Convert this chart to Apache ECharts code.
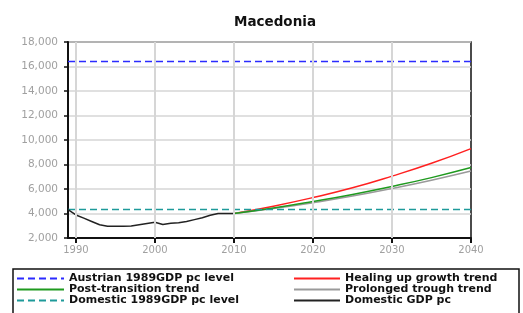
<!DOCTYPE html>
<html>
<head>
<meta charset="utf-8">
<script src="https://cdn.jsdelivr.net/npm/echarts@6/dist/echarts.min.js"></script>
<style>
  html, body { margin: 0; padding: 0; background: #fff; }
  #chart { width: 523px; height: 313px; }
</style>
</head>
<body>
<div id="chart"></div>
<script>
// observed GDP per capita, Macedonia
var histYears = [1989, 1990, 1991, 1992, 1993, 1994, 1995, 1996, 1997, 1998, 1999,
                 2000, 2001, 2002, 2003, 2004, 2005, 2006, 2007, 2008, 2009, 2010];
var domesticGdp = [4320, 3880, 3620, 3350, 3080, 2960, 2950, 2950, 2980, 3080, 3180,
                   3280, 3100, 3210, 3250, 3350, 3500, 3650, 3850, 4000, 4000, 4000];

// projections (5-year steps)
var projYears = [2010, 2015, 2020, 2025, 2030, 2035, 2040];
var healingUp = [4000, 4600, 5300, 6100, 7050, 8100, 9300];
var postTransition = [4000, 4450, 4980, 5560, 6210, 6930, 7750];
var prolongedTrough = [4000, 4400, 4880, 5420, 6040, 6720, 7470];

// reference levels
var levelYears = [1989, 2040];
var austrian1989 = 16400;
var domestic1989 = 4320;

var decadeTicks = [1990, 2000, 2010, 2020, 2030, 2040];

function pairs(xs, ys) {
    var out = [];
    for (var i = 0; i < xs.length; i++) {
        out.push([xs[i], ys[i]]);
    }
    return out;
}

var font = 'DejaVu Sans';
var legendText = { fontFamily: font, fontSize: 11, fontWeight: 'bold', color: '#111' };

var chart = echarts.init(document.getElementById('chart'));
chart.setOption({
    animation: false,
    title: {
        text: 'Macedonia',
        left: 270,
        textAlign: 'center',
        top: 10,
        textStyle: { fontFamily: font, fontSize: 13.5, fontWeight: 'bold', color: '#111' }
    },
    grid: {
        left: 68, right: 52, top: 42, bottom: 75,
        show: true, borderColor: '#111', borderWidth: 1.5
    },
    legend: [{
        orient: 'vertical',
        left: 16, top: 273, height: 40, padding: 0,
        itemWidth: 47, itemHeight: 12, itemGap: 0,
        itemStyle: { opacity: 0 },
        textStyle: legendText,
        data: ['Austrian 1989GDP pc level', 'Post-transition trend', 'Domestic 1989GDP pc level']
    }, {
        orient: 'vertical',
        left: 293, top: 273, height: 40, padding: 0,
        itemWidth: 46, itemHeight: 12, itemGap: 0,
        itemStyle: { opacity: 0 },
        textStyle: legendText,
        data: ['Healing up growth trend', 'Prolonged trough trend', 'Domestic GDP pc']
    }],
    graphic: [{
        type: 'rect',
        shape: { x: 13, y: 269, width: 506, height: 50 },
        style: { fill: 'none', stroke: '#111', lineWidth: 1.5 }
    }],
    xAxis: {
        type: 'value',
        min: 1989, max: 2040,
        axisLine: { lineStyle: { color: '#111', width: 2 } },
        axisTick: { customValues: decadeTicks, length: 5, lineStyle: { color: '#111', width: 2 } },
        axisLabel: {
            customValues: decadeTicks, color: '#a0a0a0', fontFamily: font, fontSize: 10, margin: 7,
            formatter: function(v) { return String(v); }
        },
        splitLine: { show: false }
    },
    yAxis: {
        type: 'value',
        min: 2000, max: 18000, interval: 2000,
        axisLine: { show: true, lineStyle: { color: '#111', width: 2 } },
        axisTick: { show: true, length: 4, lineStyle: { color: '#111', width: 1.5 } },
        axisLabel: {
            color: '#a0a0a0', fontFamily: font, fontSize: 10.5, margin: 10,
            formatter: function(v) { return v.toLocaleString('en-US'); }
        },
        splitLine: { lineStyle: { color: '#d6d6d6', width: 1.5 } }
    },
    series: [{
        // vertical decade grid lines
        type: 'line', silent: true, data: [],
        markLine: {
            symbol: 'none', silent: true, label: { show: false },
            lineStyle: { color: '#d6d6d6', width: 2, type: 'solid' },
            data: decadeTicks.slice(0, 5).map(function(y) { return { xAxis: y }; })
        }
    }, {
        name: 'Austrian 1989GDP pc level', type: 'line', symbol: 'none',
        data: pairs(levelYears, [austrian1989, austrian1989]),
        lineStyle: { color: '#2b2bff', width: 1.5, type: [7, 4] },
        itemStyle: { color: '#2b2bff' }
    }, {
        name: 'Healing up growth trend', type: 'line', symbol: 'none', smooth: true,
        data: pairs(projYears, healingUp),
        lineStyle: { color: '#ff2020', width: 1.5 }, itemStyle: { color: '#ff2020' }
    }, {
        name: 'Prolonged trough trend', type: 'line', symbol: 'none', smooth: true,
        data: pairs(projYears, prolongedTrough),
        lineStyle: { color: '#9a9a9a', width: 1.5 }, itemStyle: { color: '#9a9a9a' }
    }, {
        name: 'Post-transition trend', type: 'line', symbol: 'none', smooth: true,
        data: pairs(projYears, postTransition),
        lineStyle: { color: '#1f9a1f', width: 1.5 }, itemStyle: { color: '#1f9a1f' }
    }, {
        name: 'Domestic 1989GDP pc level', type: 'line', symbol: 'none',
        data: pairs(levelYears, [domestic1989, domestic1989]),
        lineStyle: { color: '#1e9a9a', width: 1.5, type: [7, 4] },
        itemStyle: { color: '#1e9a9a' }
    }, {
        name: 'Domestic GDP pc', type: 'line', symbol: 'none',
        data: pairs(histYears, domesticGdp),
        lineStyle: { color: '#222', width: 1.5 }, itemStyle: { color: '#222' }
    }]
});
</script>
</body>
</html>
